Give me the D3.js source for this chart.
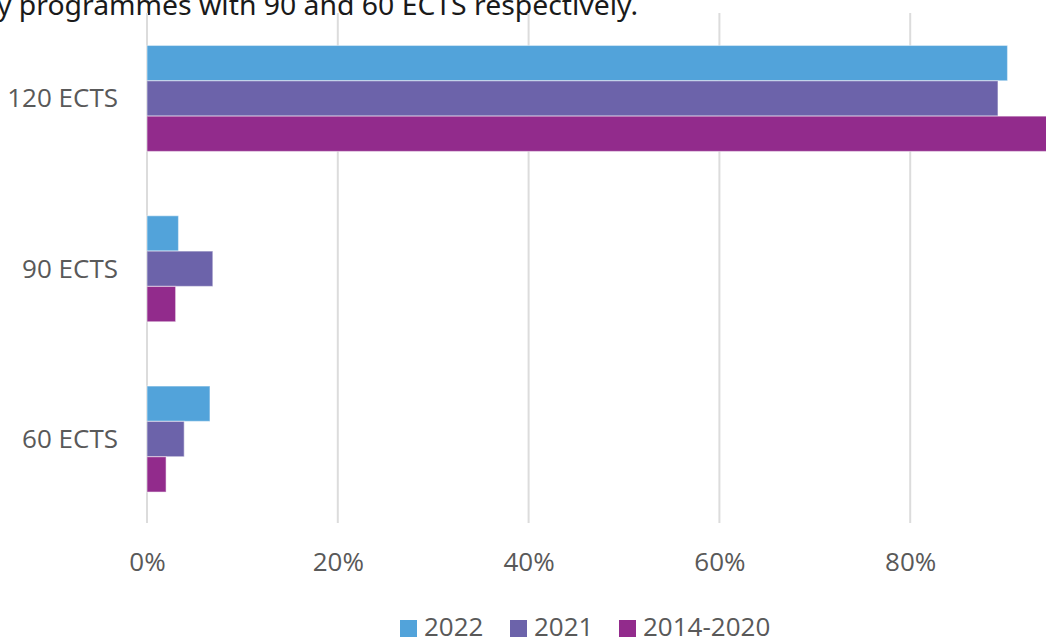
<!DOCTYPE html>
<html>
<head>
<meta charset="utf-8">
<script src="https://d3js.org/d3.v7.min.js"></script>
<style>
  body { margin: 0; background: #fff; }
  svg { display: block; }
  text { font-family: "Open Sans", sans-serif; }
</style>
</head>
<body>
<svg width="1046" height="637"></svg>
<script>
// data (share of programmes)
var categories = ["120 ECTS", "90 ECTS", "60 ECTS"];
var seriesNames = ["2022", "2021", "2014-2020"];
var values2022 = [0.902, 0.033, 0.066];
var values2021 = [0.892, 0.069, 0.039];
var values2014 = [0.95, 0.03, 0.02];
var ticks = [0, 0.2, 0.4, 0.6, 0.8];
var colors = ["#52a3da", "#6c63aa", "#922b8c"];

var allValues = [values2022, values2021, values2014];
var svg = d3.select("svg");

var x = d3.scaleLinear().domain([0, 1]).range([147, 1101]);
var y = d3.scaleBand().domain(categories).range([13.3, 524.2])
    .paddingInner(0.3775).paddingOuter(0.3775 / 2);
var ySub = d3.scaleBand().domain(seriesNames).range([0, y.bandwidth()]);
var color = d3.scaleOrdinal().domain(seriesNames).range(colors);

// cut-off line of text above the chart
svg.append("text")
    .attr("x", -3).attr("y", 15)
    .attr("textLength", 641)
    .attr("lengthAdjust", "spacingAndGlyphs")
    .style("font-family", "'Noto Sans', sans-serif")
    .style("font-size", "28px")
    .style("fill", "#1a1a1a")
    .text("y programmes with 90 and 60 ECTS respectively.");

// gridlines
svg.append("g").selectAll("line")
    .data(ticks).enter().append("line")
    .attr("x1", function(d) { return x(d); })
    .attr("x2", function(d) { return x(d); })
    .attr("y1", 13).attr("y2", 523)
    .style("stroke", "#dcdcdc")
    .style("stroke-width", 2);

// bars
var rows = [];
categories.forEach(function(c, i) {
    seriesNames.forEach(function(s, j) {
        rows.push({cat: c, series: s, value: allValues[j][i]});
    });
});
svg.append("g").selectAll("rect")
    .data(rows).enter().append("rect")
    .attr("x", x(0))
    .attr("y", function(d) { return y(d.cat) + ySub(d.series); })
    .attr("width", function(d) { return x(d.value) - x(0); })
    .attr("height", ySub.bandwidth())
    .attr("fill", function(d) { return color(d.series); })
    .style("stroke", "#fff")
    .style("stroke-opacity", 0.45)
    .style("stroke-width", 1.2);

// x axis labels
var xAxis = svg.append("g")
    .attr("transform", "translate(0,571)")
    .call(d3.axisBottom(x).tickValues(ticks).tickFormat(d3.format(".0%")).tickSize(0).tickPadding(0));
xAxis.select(".domain").remove();
xAxis.selectAll("text")
    .attr("dy", 0)
    .style("font-family", "'Open Sans', sans-serif")
    .style("font-size", "26px")
    .style("fill", "#595959");

// y axis labels
var yAxis = svg.append("g")
    .attr("transform", "translate(118,0)")
    .call(d3.axisLeft(y).tickSize(0).tickPadding(0));
yAxis.select(".domain").remove();
yAxis.selectAll("text")
    .attr("dy", 9)
    .style("font-family", "'Open Sans', sans-serif")
    .style("font-size", "26px")
    .style("fill", "#595959");

// legend
var legendX = [400, 510, 619];
var legend = svg.append("g").selectAll("g")
    .data(seriesNames).enter().append("g")
    .attr("transform", function(d, i) { return "translate(" + legendX[i] + ",620)"; });
legend.append("rect")
    .attr("width", 17).attr("height", 17)
    .attr("fill", function(d) { return color(d); });
legend.append("text")
    .attr("x", 24).attr("y", 16)
    .style("font-size", "26px")
    .style("fill", "#595959")
    .text(function(d) { return d; });
</script>
</body>
</html>
